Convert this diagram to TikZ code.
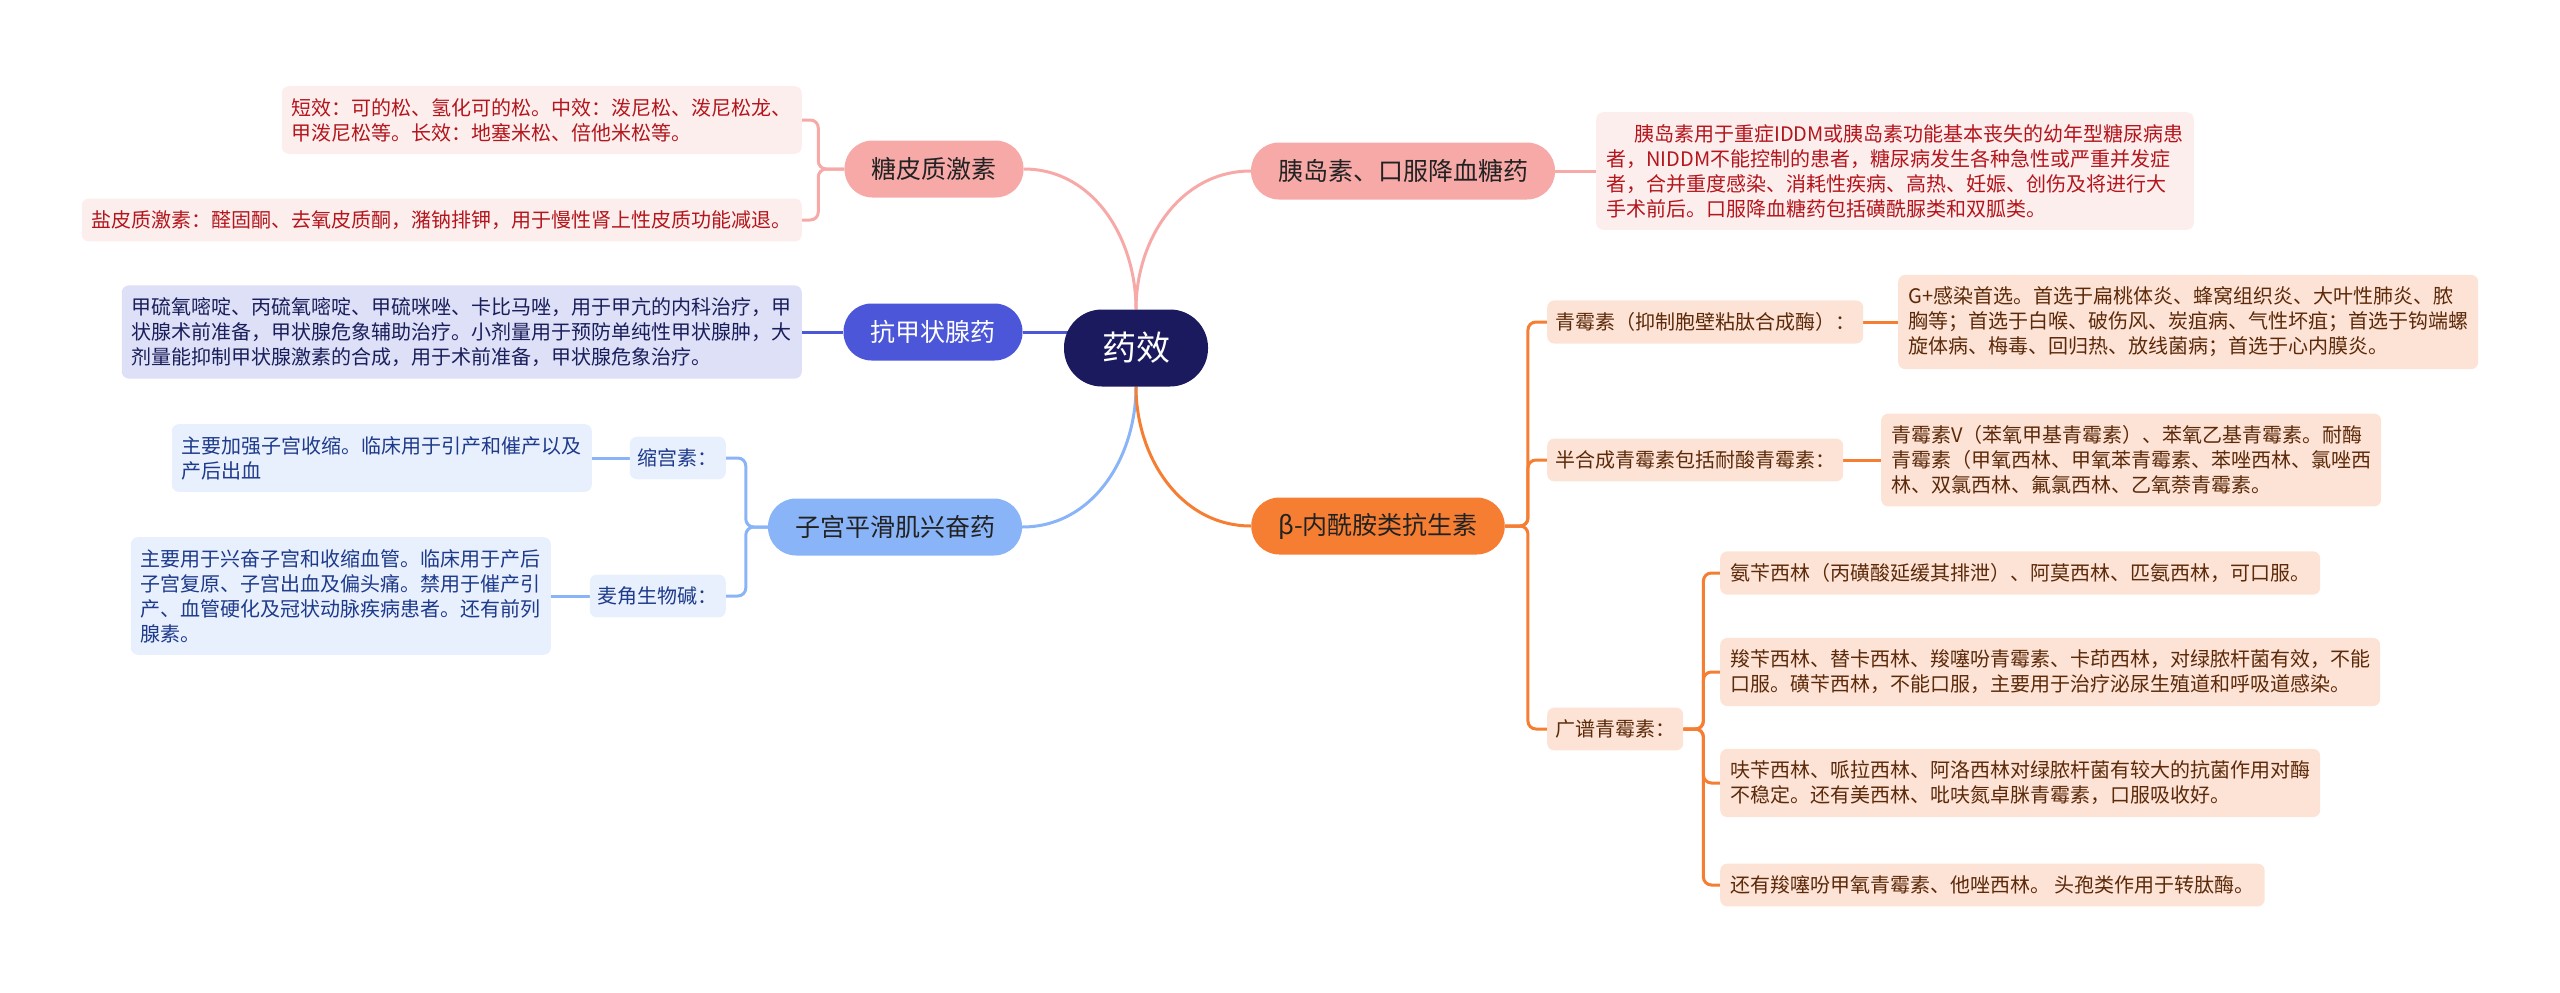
\documentclass[tikz,border=0pt]{standalone}
\usepackage{fontspec}
\setmainfont{Noto Sans CJK SC}
\usetikzlibrary{backgrounds}
\definecolor{rootc}{HTML}{1B1A5E}
\definecolor{pinkc}{HTML}{F7A9A8}
\definecolor{pinkl}{HTML}{FDEEEE}
\definecolor{pinkt}{HTML}{B3161C}
\definecolor{navyc}{HTML}{4C56D8}
\definecolor{navyl}{HTML}{DDE0F7}
\definecolor{navyt}{HTML}{1A1E5A}
\definecolor{lbluec}{HTML}{8AB4F8}
\definecolor{lbluel}{HTML}{E8F0FE}
\definecolor{lbluet}{HTML}{1E3A8A}
\definecolor{orangec}{HTML}{F57E33}
\definecolor{orangel}{HTML}{FDE3D5}
\definecolor{oranget}{HTML}{5C2A0A}
\definecolor{darkt}{HTML}{222222}

\begin{document}
\begin{tikzpicture}[x=1pt,y=1pt,
  mainnode/.style={rounded corners=28pt,minimum height=57pt,inner xsep=27pt,font=\fontsize{25}{30}\selectfont},
  subnode/.style={rounded corners=7pt,inner xsep=8pt,inner ysep=12pt,font=\fontsize{20}{25}\selectfont},
  leaf/.style={rounded corners=7pt,inner xsep=10pt,inner ysep=12pt,align=left,font=\fontsize{20}{25}\selectfont},
  link/.style={line width=3pt},
  fork/.style={line width=3pt,rounded corners=8pt}]
\useasboundingbox (0,0) rectangle (2560,-993);
\node[fill=rootc,text=white,rounded corners=38pt,minimum height=77pt,inner xsep=38pt,font=\fontsize{34}{40}\selectfont] (root) at (1136,-348) {药效};
\node[mainnode,fill=pinkc,text=darkt] (gl) at (934,-169) {糖皮质激素};
\node[mainnode,fill=pinkc,text=darkt] (yd) at (1403,-171) {胰岛素、口服降血糖药};
\node[mainnode,fill=navyc,text=white] (kj) at (933,-332) {抗甲状腺药};
\node[mainnode,fill=lbluec,text=darkt] (zg) at (895,-527) {子宫平滑肌兴奋药};
\node[mainnode,fill=orangec,text=darkt] (bl) at (1378,-526) {β-内酰胺类抗生素};
\node[leaf,fill=pinkl,text=pinkt,anchor=east] (gl1) at (802,-120) {短效：可的松、氢化可的松。中效：泼尼松、泼尼松龙、\\甲泼尼松等。长效：地塞米松、倍他米松等。};
\node[leaf,fill=pinkl,text=pinkt,anchor=east] (gl2) at (802,-220) {盐皮质激素：醛固酮、去氧皮质酮，潴钠排钾，用于慢性肾上性皮质功能减退。};
\node[leaf,fill=pinkl,text=pinkt,anchor=west] (yd1) at (1596,-171) {\hspace*{28pt}胰岛素用于重症IDDM或胰岛素功能基本丧失的幼年型糖尿病患\\者，NIDDM不能控制的患者，糖尿病发生各种急性或严重并发症\\者，合并重度感染、消耗性疾病、高热、妊娠、创伤及将进行大\\手术前后。口服降血糖药包括磺酰脲类和双胍类。};
\node[leaf,fill=navyl,text=navyt,anchor=east] (kj1) at (802,-332) {甲硫氧嘧啶、丙硫氧嘧啶、甲硫咪唑、卡比马唑，用于甲亢的内科治疗，甲\\状腺术前准备，甲状腺危象辅助治疗。小剂量用于预防单纯性甲状腺肿，大\\剂量能抑制甲状腺激素的合成，用于术前准备，甲状腺危象治疗。};
\node[subnode,fill=lbluel,text=lbluet,anchor=east] (ss) at (726,-458) {缩宫素：};
\node[subnode,fill=lbluel,text=lbluet,anchor=east] (mj) at (726,-596) {麦角生物碱：};
\node[leaf,fill=lbluel,text=lbluet,anchor=east] (ss1) at (592,-458) {主要加强子宫收缩。临床用于引产和催产以及\\产后出血};
\node[leaf,fill=lbluel,text=lbluet,anchor=east] (mj1) at (551,-596) {主要用于兴奋子宫和收缩血管。临床用于产后\\子宫复原、子宫出血及偏头痛。禁用于催产引\\产、血管硬化及冠状动脉疾病患者。还有前列\\腺素。};
\node[subnode,fill=orangel,text=oranget,anchor=west] (qm) at (1547,-322) {青霉素（抑制胞壁粘肽合成酶）：};
\node[subnode,fill=orangel,text=oranget,anchor=west] (bh) at (1547,-460) {半合成青霉素包括耐酸青霉素：};
\node[subnode,fill=orangel,text=oranget,anchor=west] (gp) at (1547,-729) {广谱青霉素：};
\node[leaf,fill=orangel,text=oranget,anchor=west] (qm1) at (1898,-322) {G+感染首选。首选于扁桃体炎、蜂窝组织炎、大叶性肺炎、脓\\胸等；首选于白喉、破伤风、炭疽病、气性坏疽；首选于钩端螺\\旋体病、梅毒、回归热、放线菌病；首选于心内膜炎。};
\node[leaf,fill=orangel,text=oranget,anchor=west] (bh1) at (1881,-460) {青霉素V（苯氧甲基青霉素）、苯氧乙基青霉素。耐酶\\青霉素（甲氧西林、甲氧苯青霉素、苯唑西林、氯唑西\\林、双氯西林、氟氯西林、乙氧萘青霉素。};
\node[leaf,fill=orangel,text=oranget,anchor=west] (gp1) at (1720,-573) {氨苄西林（丙磺酸延缓其排泄）、阿莫西林、匹氨西林，可口服。};
\node[leaf,fill=orangel,text=oranget,anchor=west] (gp2) at (1720,-672) {羧苄西林、替卡西林、羧噻吩青霉素、卡茚西林，对绿脓杆菌有效，不能\\口服。磺苄西林，不能口服，主要用于治疗泌尿生殖道和呼吸道感染。};
\node[leaf,fill=orangel,text=oranget,anchor=west] (gp3) at (1720,-783) {呋苄西林、哌拉西林、阿洛西林对绿脓杆菌有较大的抗菌作用对酶\\不稳定。还有美西林、吡呋氮卓脒青霉素，口服吸收好。};
\node[leaf,fill=orangel,text=oranget,anchor=west] (gp4) at (1720,-885) {还有羧噻吩甲氧青霉素、他唑西林。 头孢类作用于转肽酶。};
\begin{scope}[on background layer]
\draw[link,pinkc] (root.north) to[out=90,in=0] (gl.east);
\draw[link,pinkc] (root.north) to[out=90,in=180] (yd.west);
\draw[link,navyc] (kj.east) -- (kj.east -| root.center);
\draw[link,lbluec] (root.south) to[out=-90,in=0] (zg.east);
\draw[link,orangec] (root.south) to[out=-90,in=180] (bl.west);
\draw[fork,pinkc] (gl.west) -- ++(-26,0) |- (gl1.east);
\draw[fork,pinkc] (gl.west) -- ++(-26,0) |- (gl2.east);
\draw[link,pinkc] (yd.east) -- (yd1.west);
\draw[link,navyc] (kj.west) -- (kj1.east);
\draw[fork,lbluec] (zg.west) -- ++(-22,0) |- (ss.east);
\draw[fork,lbluec] (zg.west) -- ++(-22,0) |- (mj.east);
\draw[link,lbluec] (ss.west) -- (ss1.east);
\draw[link,lbluec] (mj.west) -- (mj1.east);
\draw[fork,orangec] (bl.east) -- ++(23,0) |- (qm.west);
\draw[fork,orangec] (bl.east) -- ++(23,0) |- (bh.west);
\draw[fork,orangec] (bl.east) -- ++(23,0) |- (gp.west);
\draw[link,orangec] (qm.east) -- (qm1.west);
\draw[link,orangec] (bh.east) -- (bh1.west);
\foreach \k in {1,...,4}
  \draw[fork,orangec] (gp.east) -- ++(20,0) |- (gp\k.west);
\end{scope}
\end{tikzpicture}
\end{document}
